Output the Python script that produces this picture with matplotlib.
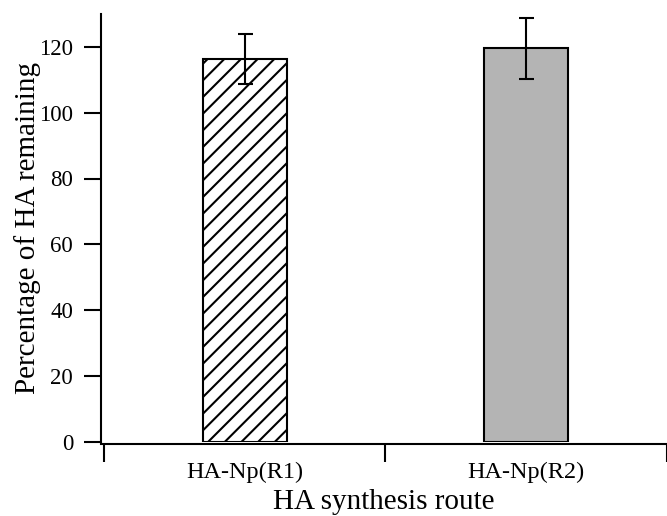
import numpy as np
import matplotlib
matplotlib.use("Agg")
import matplotlib.pyplot as plt

plt.rcParams['font.family'] = ['Liberation Serif', 'DejaVu Serif']
plt.rcParams['hatch.linewidth'] = 1.5

routes = ['HA-Np(R1)', 'HA-Np(R2)']
remaining = [116.3, 119.6]
errors = [7.6, 9.3]

fig = plt.figure(figsize=(6.67, 5.16), dpi=100)
ax = fig.add_axes([101 / 667, 74.3 / 516, 1 - 101 / 667, (441.7 - 14) / 516])

x = np.arange(len(routes))
bars = ax.bar(x, remaining, width=0.3, edgecolor='black', linewidth=1.5,
              color=['white', '#b4b4b4'])
bars[0].set_hatch('//')
ax.errorbar(x, remaining, yerr=errors, fmt='none', ecolor='black',
            elinewidth=1.5, capsize=5.4, capthick=1.5)

ax.set_xlim(-0.5 - 3 / 284, 1.5 - 5 / 284)
ax.set_ylim(0, 130)
ax.set_yticks(np.arange(0, 121, 20))

# category labels centred, tick marks on the boundaries
ax.set_xticks(x)
ax.set_xticklabels(routes)
ax.set_xticks([-0.5, 0.5, 1.5], minor=True)
ax.tick_params(axis='x', which='major', length=0, pad=13, labelsize=17.5)
ax.tick_params(axis='x', which='minor', length=13, width=1.5, direction='out')
ax.tick_params(axis='y', length=12, width=1.5, direction='out', pad=8,
               labelsize=16.5)

for side in ['top', 'right']:
    ax.spines[side].set_visible(False)
ax.spines['left'].set_linewidth(1.5)
ax.spines['bottom'].set_linewidth(1.5)
ax.spines['bottom'].set_position(('outward', 1.8))

ax.set_ylabel('Percentage of HA remaining', fontsize=21, labelpad=-1)
ax.set_xlabel('HA synthesis route', fontsize=21, labelpad=4)

fig.savefig('out.png', dpi=100)
